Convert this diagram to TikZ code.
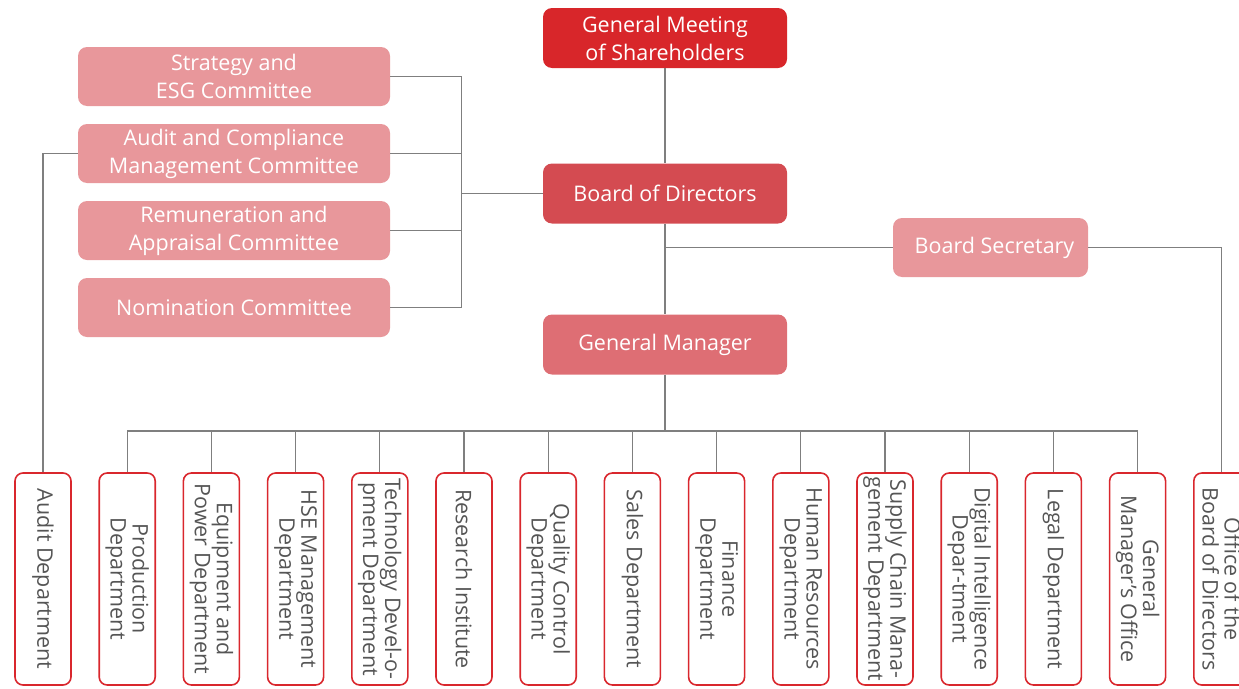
\documentclass[tikz,border=0pt]{standalone}
\usepackage{fontspec}
\setmainfont{Open Sans}
\usetikzlibrary{positioning}
\definecolor{gmsred}{HTML}{D8262A}
\definecolor{bodred}{HTML}{D44B51}
\definecolor{gmred}{HTML}{DE6E74}
\definecolor{compink}{HTML}{E8979B}
\definecolor{deptred}{HTML}{D9272D}
\definecolor{linegray}{HTML}{7F7F7F}
\definecolor{textgray}{HTML}{555555}
\tikzset{
  headbox/.style={rounded corners=9, text=white, align=center, inner sep=0,
    minimum width=244, minimum height=60, font=\fontsize{21.5}{28}\selectfont},
  combox/.style={headbox, fill=compink, minimum width=312, minimum height=59},
  deptbox/.style={draw=deptred, line width=1.6, rounded corners=8, rotate=-90,
    text=textgray, align=center, inner sep=0, minimum width=212, minimum height=56,
    font=\fontsize{21.5}{22}\selectfont},
  link/.style={draw=linegray, line width=1.2}
}

\begin{document}
\begin{tikzpicture}[x=1pt,y=-1pt]
\useasboundingbox (0,0) rectangle (1239,688);
\clip (0,0) rectangle (1239,688);
      % top of the chart
      \node[headbox, fill=gmsred] (gms) at (665,38) {General Meeting\\of Shareholders};
      \node[headbox, fill=bodred] (bod) at (665,193.5) {Board of Directors};
      \node[headbox, fill=gmred] (gm) at (665,344.5) {General Manager};
      \node[headbox, fill=compink, minimum width=195, minimum height=59] (bsec) at (990.5,247.5) {\hspace{8pt}Board Secretary};
      % committees
      \node[combox] (strat) at (234,76.5) {Strategy and\\ESG Committee};
      \node[combox] (audc) at (234,153.5) {Audit and Compliance\\Management Committee};
      \node[combox] (remu) at (234,230.5) {Remuneration and\\Appraisal Committee};
      \node[combox] (nomi) at (234,307.5) {Nomination Committee};
      % departments
      \foreach \nm/\txt [count=\i from 0] in {audit/{Audit Department}, prod/{Production\\Department},
          equip/{Equipment and\\Power Department}, hse/{HSE Management\\Department},
          tech/{Technology Devel-o-\\pment Department}, research/{Research Institute},
          quality/{Quality Control\\Department}, sales/{Sales Department}, finance/{Finance\\Department},
          hr/{Human Resources\\Department}, supply/{Supply Chain Mana-\\gement Department},
          digital/{Digital IntelIigence\\Depar-tment}, legal/{Legal Department},
          gmo/{General\\Manager’s Office}, office/{Office of the\\Board of Directors}}
        \node[deptbox] (\nm) at ({43+84.2*\i},579) {\txt};
      % connectors
      \draw[link] (gms) -- (bod);
      \draw[link] (bod) -- (gm);
      \coordinate (bsj) at (665,247.5);
      \draw[link] (bsj) -- (bsec);
      \draw[link] (bsec.east) -| (office);
      \draw[link] (strat.east) -- ++(71,0) |- (nomi.east);
      \draw[link] (audc.east) -- ++(71,0);
      \draw[link] (remu.east) -- ++(71,0);
      \draw[link] (bod.west) -- ++(-82,0);
      \draw[link] (audc.west) -| (audit);
      \coordinate (gmbus) at (665,431);
      \draw[link] (gm) -- (gmbus);
      \draw[link] (prod |- gmbus) -- (gmo |- gmbus);
      \foreach \nm in {prod,equip,hse,tech,research,quality,sales,finance,hr,supply,digital,legal,gmo}
        \draw[link] (\nm |- gmbus) -- (\nm);
\end{tikzpicture}
\end{document}
